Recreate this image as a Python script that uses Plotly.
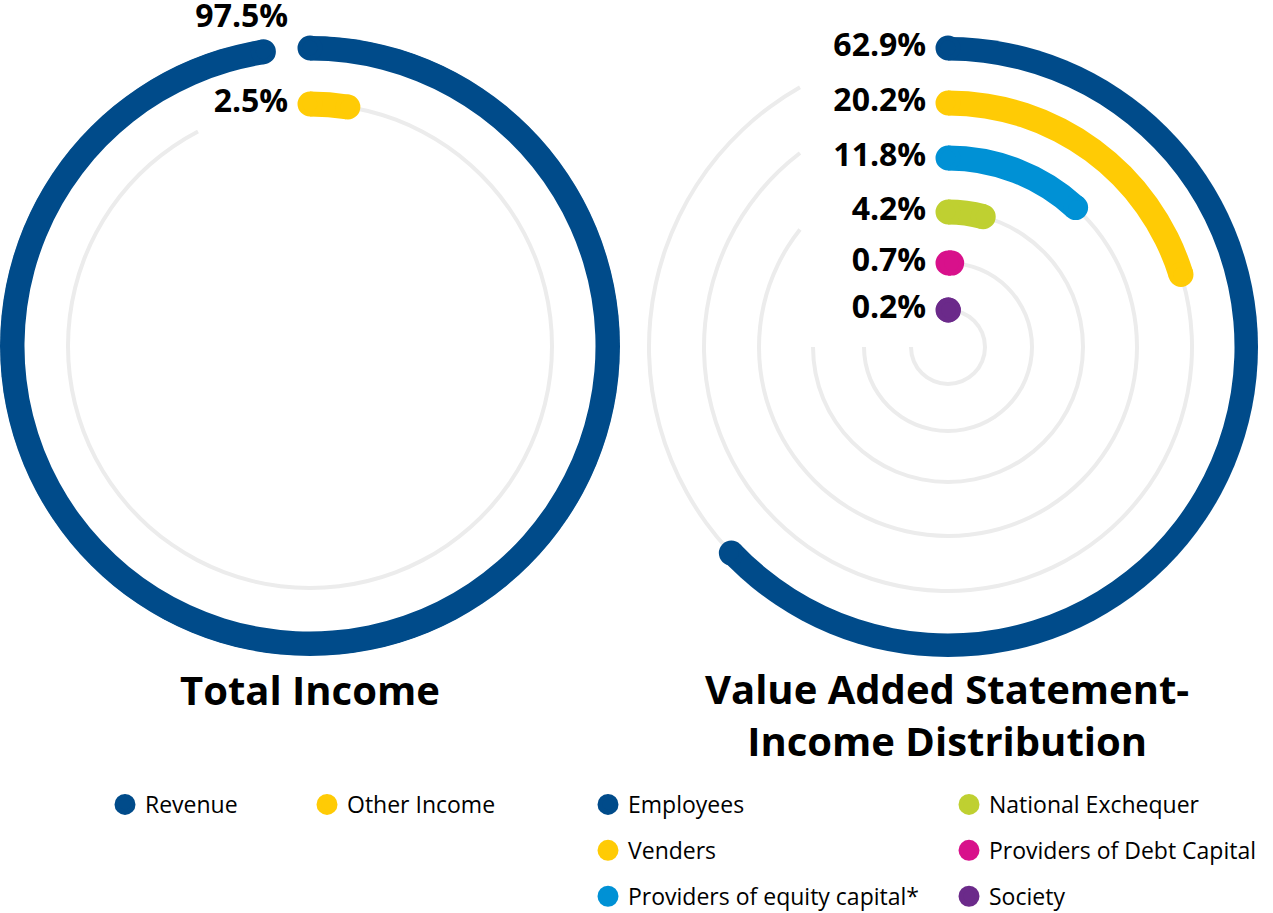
import math
import plotly.graph_objects as go

W, H = 1273, 913

# ---------------- data ----------------
income_labels = ["Revenue", "Other Income"]
income_values = [97.5, 2.5]
income_colors = ["#004b8a", "#ffcb05"]

dist_labels = ["Employees", "Venders", "Providers of equity capital*",
               "National Exchequer", "Providers of Debt Capital", "Society"]
dist_values = [62.9, 20.2, 11.8, 4.2, 0.7, 0.2]
dist_colors = ["#004b8a", "#ffcb05", "#0091d5", "#bfd031", "#d8118b", "#6b2a8a"]

titles = ["Total Income", "Value Added Statement-<br>Income Distribution"]

# ---------------- style / layout constants ----------------
FONT = "Open Sans"
TRACK = "#ececec"
ARC_W = 25          # thickness of coloured arcs (px = radial units)
TRACK_W = 4
RMAX = 310
left_radii = [298, 242]
right_radii = [299, 244, 189, 135, 84, 37]
left_cut = 112      # horizontal distance where grey tracks stop (label room)
right_cut = 148

fig = go.Figure()


def track_end(r, cut):
    return 360 - math.degrees(math.asin(min(cut / r, 1.0)))


def add_ring(subplot, label, value, color, r, cut, legend, textpos):
    end = track_end(r, cut)
    # grey track
    fig.add_trace(go.Barpolar(
        r=[TRACK_W], base=[r - TRACK_W / 2], theta=[end / 2], width=[end],
        marker=dict(color=TRACK, line=dict(width=0)),
        subplot=subplot, showlegend=False, hoverinfo="skip"))
    # coloured arc
    sweep = value * 3.6
    fig.add_trace(go.Barpolar(
        r=[ARC_W], base=[r - ARC_W / 2], theta=[sweep / 2], width=[sweep],
        marker=dict(color=color, line=dict(width=0)),
        subplot=subplot, showlegend=False, hoverinfo="skip"))
    # round caps + label (also the legend entry)
    fig.add_trace(go.Scatterpolar(
        r=[r, r], theta=[0, sweep], mode="markers+text",
        marker=dict(size=ARC_W - 5, color=color, line=dict(width=5, color=color)),
        text=[f"{value}%\u00a0", ""], textposition=textpos,
        textfont=dict(family=FONT, size=32, color="#000000", weight=700),
        name=label, legend=legend, legendgroup=label,
        subplot=subplot, cliponaxis=False, hoverinfo="skip"))


for i, (lab, val, col) in enumerate(zip(income_labels, income_values, income_colors)):
    add_ring("polar", lab, val, col, left_radii[i], left_cut, "legend",
             "top left" if i == 0 else "middle left")

for i, (lab, val, col) in enumerate(zip(dist_labels, dist_values, dist_colors)):
    add_ring("polar2", lab, val, col, right_radii[i], right_cut,
             "legend2" if i < 3 else "legend3", "middle left")


def polar_cfg(cx, cy):
    return dict(
        domain=dict(x=[(cx - RMAX) / W, (cx + RMAX) / W],
                    y=[1 - (cy + RMAX) / H, 1 - (cy - RMAX) / H]),
        bgcolor="rgba(0,0,0,0)", barmode="overlay", hole=0,
        radialaxis=dict(range=[0, RMAX], visible=False),
        angularaxis=dict(rotation=90, direction="clockwise", visible=False),
    )


legend_common = dict(font=dict(family=FONT, size=23, color="#000000"),
                     bgcolor="rgba(0,0,0,0)", xanchor="left",
                     itemclick=False, itemdoubleclick=False)

fig.update_layout(
    width=W, height=H, margin=dict(l=0, r=0, t=0, b=0, autoexpand=False),
    paper_bgcolor="white", plot_bgcolor="white",
    polar=polar_cfg(310, 346),
    polar2=polar_cfg(948, 347),
    legend=dict(**legend_common, orientation="h", x=105 / W, y=1 - 783 / H,
                yanchor="top", entrywidth=157, entrywidthmode="pixels"),
    legend2=dict(**legend_common, orientation="v", x=588 / W, y=1 - 783 / H,
                 yanchor="top", tracegroupgap=13),
    legend3=dict(**legend_common, orientation="v", x=949 / W, y=1 - 783 / H,
                 yanchor="top", tracegroupgap=13),
    annotations=[
        dict(text=titles[0], x=310 / W, y=1 - 689 / H, xref="paper", yref="paper",
             showarrow=False, xanchor="center", yanchor="middle",
             font=dict(family=FONT, size=40, color="#000000", weight=700)),
        dict(text=titles[1], x=947 / W, y=1 - 714 / H, xref="paper", yref="paper",
             showarrow=False, xanchor="center", yanchor="middle",
             font=dict(family=FONT, size=40, color="#000000", weight=700)),
    ],
)

fig.write_html("out.html", config={"displayModeBar": False},
               post_script="document.body.style.margin='0';")
